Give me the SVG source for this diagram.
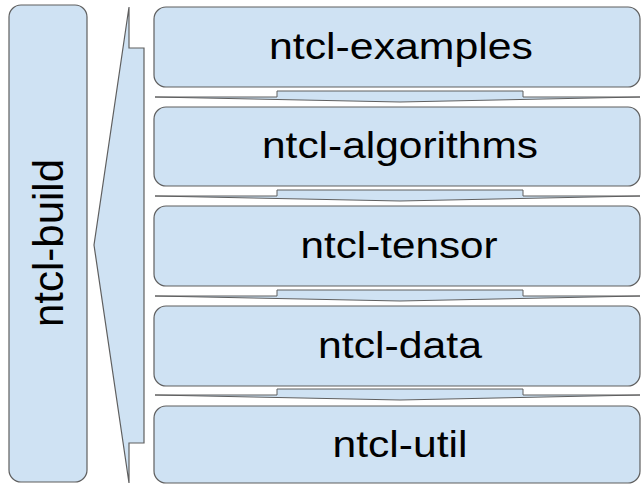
<svg xmlns="http://www.w3.org/2000/svg" width="641" height="484" viewBox="0 0 641 484">
<style>
.box{fill:#cfe2f3;stroke:#5f5f5f;stroke-width:1.2}
.con{fill:#cfe2f3;stroke:#5f5f5f;stroke-width:1;stroke-linejoin:miter}
.lbl{font-family:"Liberation Sans",Arial,sans-serif;font-size:37px;fill:#000;text-anchor:middle}
</style>
<rect width="641" height="484" fill="#ffffff"/>
<g id="ntcl-build">
<rect class="box" x="9" y="5" width="78" height="477" rx="12"/>
<text class="lbl" style="font-size:42px" transform="translate(63 243) rotate(-90)" x="0" y="0">ntcl-build</text>
</g>
<g id="build-arrow">
<polygon class="box" points="129,7 129,48 144,48 144,443 129,443 129,483 94,245"/>
</g>
<g id="ntcl-examples">
<rect class="box" x="154" y="7" width="486" height="80" rx="12"/>
<text class="lbl" x="401" y="59" textLength="264" lengthAdjust="spacingAndGlyphs">ntcl-examples</text>
</g>
<g id="ntcl-algorithms">
<rect class="box" x="154" y="107" width="486" height="79" rx="12"/>
<text class="lbl" x="400" y="158" textLength="276" lengthAdjust="spacingAndGlyphs">ntcl-algorithms</text>
</g>
<g id="ntcl-tensor">
<rect class="box" x="154" y="206" width="486" height="80" rx="12"/>
<text class="lbl" x="399" y="258" textLength="197" lengthAdjust="spacingAndGlyphs">ntcl-tensor</text>
</g>
<g id="ntcl-data">
<rect class="box" x="154" y="306" width="486" height="80" rx="12"/>
<text class="lbl" x="400" y="358" textLength="164" lengthAdjust="spacingAndGlyphs">ntcl-data</text>
</g>
<g id="ntcl-util">
<rect class="box" x="154" y="406" width="486" height="77" rx="12"/>
<text class="lbl" x="400" y="457" textLength="135" lengthAdjust="spacingAndGlyphs">ntcl-util</text>
</g>
<g id="connectors">
<polygon class="con" points="277,91 523,91 523,97 640,97 400,102 155,97 277,97"/>
<polygon class="con" points="277,190 523,190 523,196 640,196 400,201 155,196 277,196"/>
<polygon class="con" points="277,290 523,290 523,296 640,296 400,301 155,296 277,296"/>
<polygon class="con" points="277,389 523,389 523,395 640,395 400,400 155,395 277,395"/>
</g>
</svg>
